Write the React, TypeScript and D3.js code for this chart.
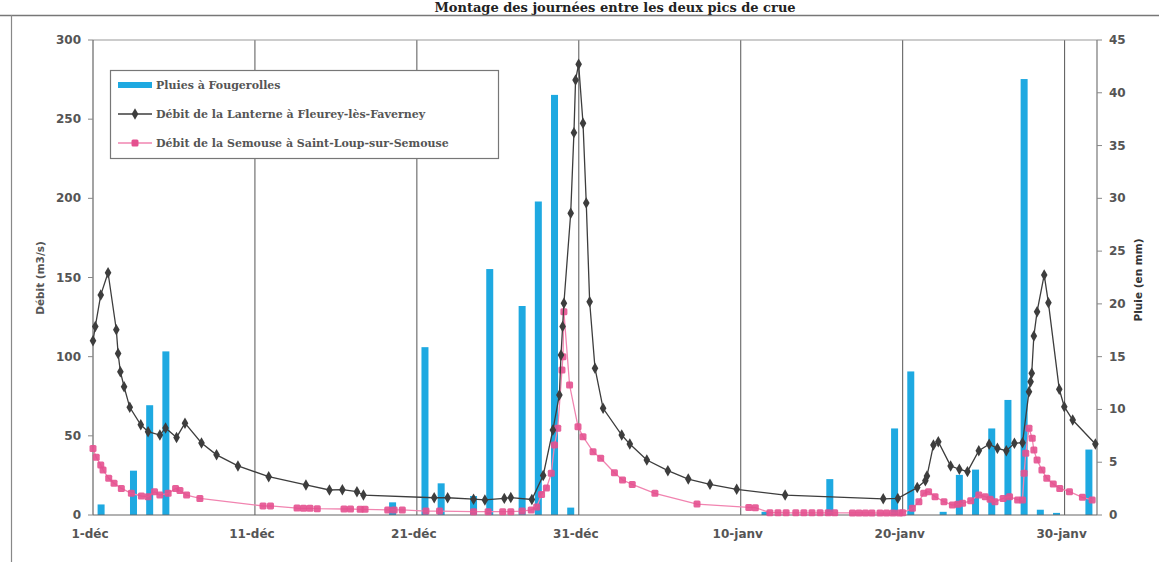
import { useMemo } from 'react';
import * as d3 from 'd3';

// Jours comptés depuis le 1er décembre (fractions = mesures intra-journalières)
const lanterneJours = [0, 0.14, 0.48, 0.93, 1.44, 1.55, 1.69, 1.92, 2.27, 2.95, 3.4, 4.13, 4.48, 5.16, 5.68, 6.7, 7.63, 8.95, 10.85, 13.15, 14.6, 15.4, 16.3, 16.7, 21.07, 21.9, 23.5, 24.2, 25.4, 25.8, 27.1, 27.8, 28.4, 28.8, 28.9, 29.0, 29.08, 29.5, 29.7, 29.8, 29.99, 30.26, 30.46, 30.67, 31.0, 31.5, 32.65, 33.15, 34.2, 35.5, 36.76, 38.1, 39.75, 42.74, 48.8, 49.7, 50.9, 51.4, 51.5, 51.9, 52.2, 52.96, 53.5, 54.0, 54.7, 55.34, 55.85, 56.4, 56.9, 57.4, 57.8, 57.9, 57.97, 58.1, 58.3, 58.74, 59.0, 59.67, 59.98, 60.5, 61.9];
const lanterneDebit = [110, 119, 139, 153, 117, 102, 90.5, 81, 68, 57, 52.6, 50.5, 55, 49, 58, 45.5, 38, 31, 24.2, 19, 15.8, 16, 14.7, 12.6, 10.9, 10.9, 10, 9.5, 10.5, 11, 9.8, 25, 53.7, 75.8, 101, 119, 133.7, 190.6, 241.5, 274.8, 284.7, 247.4, 197, 134.7, 92.7, 67.4, 50.5, 44.8, 34.7, 28, 22.7, 19.4, 16.2, 12.6, 10.2, 10.5, 17.3, 21.7, 24.6, 44.2, 46.3, 31, 28.9, 27.4, 40.6, 44.7, 42.1, 40.6, 45.3, 45.7, 77.9, 84.2, 89.5, 113, 128.4, 151.6, 134, 79.4, 68.4, 60, 44.8];

const semouseJours = [0, 0.2, 0.48, 0.62, 0.97, 1.3, 1.75, 2.37, 2.99, 3.4, 3.8, 4.13, 4.64, 5.1, 5.37, 5.78, 6.6, 10.5, 10.96, 12.6, 13.0, 13.4, 13.85, 15.5, 15.9, 16.5, 16.8, 18.2, 18.6, 19.1, 20.56, 21.4, 23.5, 24.4, 25.3, 25.8, 26.5, 27.06, 27.4, 27.7, 28.0, 28.3, 28.5, 28.7, 28.96, 29.02, 29.08, 29.43, 29.95, 30.26, 30.88, 31.35, 32.2, 32.7, 33.3, 34.7, 37.3, 40.5, 40.9, 41.8, 42.3, 42.8, 43.4, 43.9, 44.4, 44.9, 45.4, 45.8, 46.9, 47.3, 47.7, 48.1, 48.6, 49.0, 49.4, 49.8, 50.0, 50.6, 51.0, 51.3, 51.6, 52.0, 52.55, 53.07, 53.4, 53.7, 54.2, 54.7, 55.1, 55.4, 55.7, 56.2, 56.6, 57.1, 57.4, 57.5, 57.6, 57.8, 58.0, 58.1, 58.3, 58.6, 58.9, 59.3, 59.7, 60.3, 61.1, 61.7];
const semouseDebit = [42, 36.4, 31.6, 28.4, 23.2, 20, 16.8, 13.7, 12, 11.6, 14.7, 12.6, 13.7, 16.8, 15.4, 12.6, 10.5, 5.7, 5.7, 4.4, 4.2, 4.2, 4.0, 3.8, 3.8, 3.6, 3.6, 3.2, 3.2, 3.2, 2.5, 2.5, 2.1, 2.1, 2.1, 2.1, 2.5, 3.2, 5, 13, 17, 26.3, 44.2, 54.8, 91.6, 100, 128.4, 82.1, 55.8, 49.5, 40, 35.8, 26.7, 22.1, 19.3, 13.7, 6.9, 4.8, 4.6, 1.5, 1.5, 1.4, 1.4, 1.4, 1.4, 1.4, 1.4, 1.4, 1.3, 1.3, 1.3, 1.3, 1.2, 1.2, 1.2, 1.3, 1.5, 4.2, 8.4, 13.7, 14.7, 11.6, 8.4, 6.3, 6.8, 7.4, 9, 12.6, 11.6, 10, 8.4, 10.5, 11.6, 9.5, 9.5, 26.3, 39, 54.8, 48.4, 41, 34.7, 28.4, 23.2, 19.6, 16.8, 14.7, 11.2, 9.5];

const pluieJours = [0, 2, 3, 4, 18, 20, 21, 23, 24, 26, 27, 28, 29, 41, 45, 49, 50, 52, 53, 54, 55, 56, 57, 58, 59, 61];
const pluieMm = [1.0, 4.2, 10.4, 15.5, 1.2, 15.9, 3.0, 1.8, 23.3, 19.8, 29.7, 39.8, 0.7, 0.3, 3.4, 8.2, 13.6, 0.3, 3.8, 4.3, 8.2, 10.9, 41.3, 0.5, 0.2, 6.2];

const xTicks = [0, 10, 20, 30, 40, 50, 60];
const xLabels = ['1-déc', '11-déc', '21-déc', '31-déc', '10-janv', '20-janv', '30-janv'];
const debitTicks = [0, 50, 100, 150, 200, 250, 300];
const pluieTicks = [0, 5, 10, 15, 20, 25, 30, 35, 40, 45];

const BLEU = '#1ea9e1';
const GRIS = '#3d3d3d';
const ROSE_LIGNE = '#f184b0';
const ROSE = '#e4508f';
const TXT = '#555';

export default function App() {
  const W = 1159, H = 562;
  const left = 93, right = 1097, top = 40, bottom = 515;

  const x = d3.scaleLinear().domain([0, 62]).range([left, right]);
  const yD = d3.scaleLinear().domain([0, 300]).range([bottom, top]);
  const yP = d3.scaleLinear().domain([0, 45]).range([bottom, top]);

  const lanterne = useMemo(() => lanterneJours.map((j, i) => [j, lanterneDebit[i]] as [number, number]), []);
  const semouse = useMemo(() => semouseJours.map((j, i) => [j, semouseDebit[i]] as [number, number]), []);

  const line = d3.line<[number, number]>().x(d => x(d[0])).y(d => yD(d[1]));
  const diamond = d3.symbol().type(d3.symbolDiamond).size(38)() || '';
  const barW = 7;
  const font = '"DejaVu Sans", sans-serif';
  const legendFont = '"DejaVu Serif", serif';

  return (
    <svg width={W} height={H} style={{ position: 'absolute', left: 0, top: 0, background: '#fff' }}>
      {/* cadre du document scanné */}
      <text x={615} y={12} textAnchor="middle" fontFamily={legendFont} fontWeight="bold" fontSize={13} fill="#222">
        Montage des journées entre les deux pics de crue
      </text>
      <line x1={0} x2={W} y1={15.5} y2={15.5} stroke="#777" strokeWidth={1.5} />
      <line x1={11.5} x2={11.5} y1={15} y2={H} stroke="#888" strokeWidth={1.2} />

      {/* grille verticale */}
      {xTicks.slice(1).map(t => (
        <line key={t} x1={x(t)} x2={x(t)} y1={top} y2={bottom} stroke="#555" strokeWidth={1} />
      ))}
      <line x1={left} x2={right} y1={top} y2={top} stroke="#999" strokeWidth={1} />

      {/* barres de pluie */}
      {pluieJours.map((j, i) => (
        <rect key={j} x={x(j + 0.5) - barW / 2} y={yP(pluieMm[i])} width={barW}
          height={bottom - yP(pluieMm[i])} fill={BLEU} />
      ))}

      {/* axes */}
      <line x1={left} x2={left} y1={top} y2={bottom} stroke="#666" strokeWidth={1.2} />
      <line x1={right} x2={right} y1={top} y2={bottom} stroke="#777" strokeWidth={1.2} />
      <line x1={left} x2={right} y1={bottom} y2={bottom} stroke="#666" strokeWidth={1.2} />

      {debitTicks.map(t => (
        <g key={t}>
          <line x1={left - 5} x2={left} y1={yD(t)} y2={yD(t)} stroke="#888" />
          <text x={left - 12} y={yD(t) + 4} textAnchor="end" fontFamily={font} fontWeight="bold" fontSize={12} fill={TXT}>{t}</text>
        </g>
      ))}
      {pluieTicks.map(t => (
        <g key={t}>
          <line x1={right} x2={right + 5} y1={yP(t)} y2={yP(t)} stroke="#888" />
          <text x={right + 12} y={yP(t) + 4} textAnchor="start" fontFamily={font} fontWeight="bold" fontSize={12} fill={TXT}>{t}</text>
        </g>
      ))}
      {xTicks.map((t, i) => (
        <text key={t} x={x(t) - 3} y={538} textAnchor="middle" fontFamily={font} fontWeight="bold" fontSize={12} fill={TXT}>{xLabels[i]}</text>
      ))}

      <text transform={`translate(44,278) rotate(-90)`} textAnchor="middle" fontFamily={font} fontWeight="bold" fontSize={10.5} fill={TXT}>Débit (m3/s)</text>
      <text transform={`translate(1142,280) rotate(-90)`} textAnchor="middle" fontFamily={font} fontWeight="bold" fontSize={10.5} fill="#333">Pluie (en mm)</text>

      {/* Semouse */}
      <path d={line(semouse) || ''} fill="none" stroke={ROSE_LIGNE} strokeWidth={1.3} />
      {semouse.map((d, i) => (
        <rect key={i} x={x(d[0]) - 3.5} y={yD(d[1]) - 3.5} width={7} height={7} rx={1.5} fill={ROSE} opacity={0.9} />
      ))}

      {/* Lanterne */}
      <path d={line(lanterne) || ''} fill="none" stroke={GRIS} strokeWidth={1.3} />
      {lanterne.map((d, i) => (
        <path key={i} d={diamond} transform={`translate(${x(d[0])},${yD(d[1])})`} fill={GRIS} />
      ))}

      {/* légende */}
      <g>
        <rect x={110.5} y={70.5} width={388} height={88} fill="#fff" stroke="#777" strokeWidth={1.2} />
        <rect x={118} y={82} width={34} height={6} fill={BLEU} />
        <text x={156} y={89} fontFamily={legendFont} fontWeight="bold" fontSize={11} fill={TXT}>Pluies à Fougerolles</text>
        <line x1={118} x2={152} y1={114} y2={114} stroke={GRIS} strokeWidth={1.3} />
        <path d={diamond} transform="translate(135,114)" fill={GRIS} />
        <text x={156} y={118} fontFamily={legendFont} fontWeight="bold" fontSize={11} fill={TXT}>Débit de la Lanterne à Fleurey-lès-Faverney</text>
        <line x1={118} x2={152} y1={143} y2={143} stroke={ROSE_LIGNE} strokeWidth={1.3} />
        <rect x={131.5} y={139.5} width={7} height={7} rx={1.5} fill={ROSE} />
        <text x={156} y={147} fontFamily={legendFont} fontWeight="bold" fontSize={11} fill={TXT}>Débit de la Semouse à Saint-Loup-sur-Semouse</text>
      </g>
    </svg>
  );
}
